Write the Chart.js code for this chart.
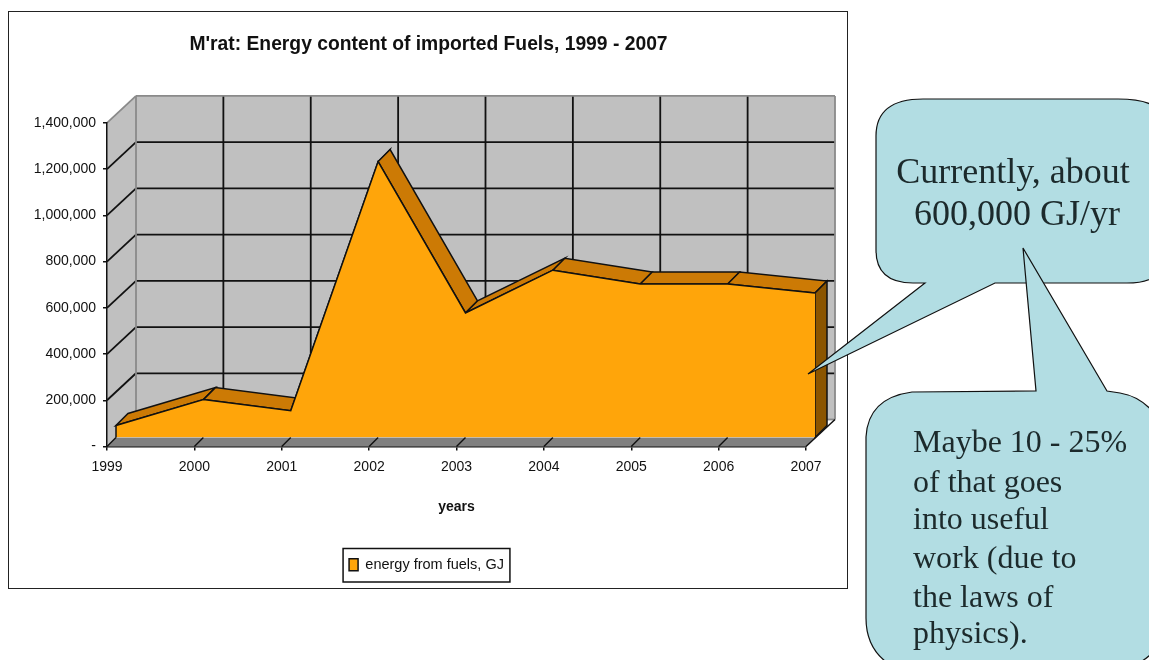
<!DOCTYPE html>
<html>
<head>
<meta charset="utf-8">
<title>M'rat fuels</title>
<script src="https://cdn.jsdelivr.net/npm/chart.js@4"></script>
<style>
  html, body { margin: 0; padding: 0; background: #fff; overflow: hidden; }
  #frame { position: absolute; left: 9px; top: 12px; width: 838px; height: 576px; outline: 1.5px solid #222; filter: blur(0.6px); }
  #bubbles { position: absolute; left: 0; top: 0; filter: blur(0.6px); }
  #bubbles text { font-family: "Liberation Serif", serif; fill: #1c2a2c; }
</style>
</head>
<body>
<div id="frame"><canvas id="chart" width="838" height="576"></canvas></div>
<svg id="bubbles" width="1149" height="660">
  <path d="M925 283 L808 374 L995 283 L1127 283 Q1165 283 1165 255 L1165 125 Q1165 99 1118 99 L923 99 Q876 99 876 136 L876 250 Q876 283 913 283 Z" fill="#b2dde3" stroke="#111" stroke-width="1.2"/>
  <text x="1013" y="183" text-anchor="middle" font-size="36">Currently, about</text>
  <text x="1017" y="225" text-anchor="middle" font-size="36">600,000 GJ/yr</text>
  <path d="M912 392 L1036 391 L1023 248 L1107 391 L1120 393 Q1149 398 1165 430 L1165 625 Q1160 660 1120 670 L900 670 Q866 655 866 618 L866 437 Q868 398 912 392 Z" fill="#b2dde3" stroke="#111" stroke-width="1.2"/>
  <text x="913" y="452" font-size="32">Maybe 10 - 25%</text>
  <text x="913" y="492" font-size="32">of that goes</text>
  <text x="913" y="529" font-size="32">into useful</text>
  <text x="913" y="568" font-size="32">work (due to</text>
  <text x="913" y="607" font-size="32">the laws of</text>
  <text x="913" y="643" font-size="32">physics).</text>
</svg>
<script>
const years = ["1999", "2000", "2001", "2002", "2003", "2004", "2005", "2006", "2007"];
const energyGJ = [52000, 164000, 116000, 1194000, 539000, 724000, 664000, 664000, 625000];
const seriesName = "energy from fuels, GJ";
const chartTitle = "M'rat: Energy content of imported Fuels, 1999 - 2007";
const axisName = "years";

// fake 3D depth, in pixels
const WALL = { dx: 29, dy: -27 };
const FRONT = { dx: 9, dy: -9 };
const BAND = { dx: 12, dy: -12 };
// title and legend are centred on the frame, not on the plot
const TITLE_SHIFT = 21;
const LEGEND_SHIFT = 19;

function poly(ctx, pts, fill, stroke) {
    ctx.beginPath();
    pts.forEach((p, i) => (i ? ctx.lineTo(p[0], p[1]) : ctx.moveTo(p[0], p[1])));
    ctx.closePath();
    if (fill) { ctx.fillStyle = fill; ctx.fill(); }
    if (stroke) { ctx.strokeStyle = stroke; ctx.stroke(); }
}

function seg(ctx, x1, y1, x2, y2) {
    ctx.beginPath();
    ctx.moveTo(x1, y1);
    ctx.lineTo(x2, y2);
    ctx.stroke();
}

const depthPlugin = {
    id: "depth",
    afterLayout(chart) {
        chart.titleBlock.left += TITLE_SHIFT;
        chart.titleBlock.right += TITLE_SHIFT;
        chart.legend.left += LEGEND_SHIFT;
        chart.legend.right += LEGEND_SHIFT;
    },
    beforeDraw(chart) {
        const { ctx, chartArea: a, scales } = chart;
        const wl = a.left + WALL.dx, wr = a.right + WALL.dx;
        const wt = a.top + WALL.dy, wb = a.bottom + WALL.dy;
        ctx.save();
        ctx.lineWidth = 1.8;
        // side wall and back wall
        poly(ctx, [[a.left, a.top], [wl, wt], [wl, wb], [a.left, a.bottom]], "#c0c0c0");
        poly(ctx, [[wl, wt], [wr, wt], [wr, wb], [wl, wb]], "#c0c0c0");
        // gridlines
        ctx.strokeStyle = "#111";
        scales.y.ticks.forEach((t) => {
            const y = scales.y.getPixelForValue(t.value);
            if (t.value > 0 && y > a.top) {
                seg(ctx, a.left, y, wl, y + WALL.dy);
                seg(ctx, wl, y + WALL.dy, wr, y + WALL.dy);
            }
        });
        years.forEach((yr, i) => {
            const x = scales.x.getPixelForValue(i) + WALL.dx;
            if (i > 0 && i < years.length - 1) seg(ctx, x, wt, x, wb);
        });
        // wall edges are grey
        ctx.strokeStyle = "#8a8a8a";
        seg(ctx, a.left, a.top, wl, wt);
        seg(ctx, wl, wt, wr, wt);
        seg(ctx, wl, wt, wl, wb);
        seg(ctx, wr, wt, wr, wb);
        seg(ctx, wr, wb, a.right + FRONT.dx, wb);
        ctx.restore();
    },
    beforeDatasetsDraw(chart) {
        const { ctx, chartArea: a, scales } = chart;
        const base = scales.y.getPixelForValue(0);
        const pts = chart.getDatasetMeta(0).data.map((p) => [p.x + FRONT.dx, p.y + FRONT.dy]);
        ctx.save();
        ctx.lineWidth = 1.5;
        // floor strip in front of the area
        poly(ctx, [[a.left, base], [a.right, base], [a.right + FRONT.dx, base + FRONT.dy], [a.left + FRONT.dx, base + FRONT.dy]], "#808080");
        ctx.strokeStyle = "#111";
        years.forEach((yr, i) => {
            const x = scales.x.getPixelForValue(i);
            if (i < years.length - 1) seg(ctx, x, base, x + FRONT.dx, base + FRONT.dy);
        });
        seg(ctx, a.right, base, a.right + WALL.dx, base + WALL.dy);
        // top band
        for (let i = 0; i < pts.length - 1; i++) {
            const p = pts[i], q = pts[i + 1];
            poly(ctx, [p, q, [q[0] + BAND.dx, q[1] + BAND.dy], [p[0] + BAND.dx, p[1] + BAND.dy]], "#cc7a05", "#111");
        }
        // right end face
        const e = pts[pts.length - 1];
        const fb = base + FRONT.dy;
        poly(ctx, [e, [e[0] + BAND.dx, e[1] + BAND.dy], [e[0] + BAND.dx, fb + BAND.dy], [e[0], fb]], "#8b5500", "#111");
        ctx.restore();
        // the dataset itself sits on the front plane
        ctx.save();
        ctx.translate(FRONT.dx, FRONT.dy);
    },
    afterDatasetsDraw(chart) {
        const { ctx, scales } = chart;
        ctx.restore();
        const pts = chart.getDatasetMeta(0).data;
        const fb = scales.y.getPixelForValue(0) + FRONT.dy;
        ctx.save();
        ctx.lineWidth = 1.5;
        ctx.strokeStyle = "#111";
        seg(ctx, pts[0].x + FRONT.dx, pts[0].y + FRONT.dy, pts[0].x + FRONT.dx, fb);
        ctx.restore();
    },
    afterDraw(chart) {
        const { ctx, legend } = chart;
        const hit = legend.legendHitBoxes[0];
        ctx.save();
        ctx.lineWidth = 1.5;
        ctx.strokeStyle = "#111";
        ctx.strokeRect(hit.left - 6, legend.top, hit.width + 12, legend.height);
        ctx.restore();
    }
};

new Chart(document.getElementById("chart"), {
    type: "line",
    data: {
        labels: years,
        datasets: [{
            label: seriesName,
            data: energyGJ,
            borderColor: "#111",
            borderWidth: 1.5,
            backgroundColor: "#ffa50a",
            fill: "origin",
            tension: 0,
            pointRadius: 0
        }]
    },
    plugins: [depthPlugin],
    options: {
        responsive: false,
        animation: false,
        devicePixelRatio: 1,
        layout: { padding: { left: 0, right: 41, top: 0, bottom: 6 } },
        plugins: {
            tooltip: { enabled: false },
            title: {
                display: true,
                text: chartTitle,
                color: "#111",
                font: { family: "'Liberation Sans'", size: 19.3, weight: "bold", lineHeight: 1.2 },
                padding: { top: 21, bottom: 66.8 }
            },
            legend: {
                position: "bottom",
                labels: {
                    color: "#111",
                    boxWidth: 9,
                    boxHeight: 12,
                    padding: 9,
                    font: { family: "'Liberation Sans'", size: 14.5 }
                }
            }
        },
        scales: {
            x: {
                afterFit(scale) { scale.height = 102; },
                grid: { drawOnChartArea: false, drawTicks: true, tickLength: 4, color: "#111", lineWidth: 1.5 },
                border: { color: "#111", width: 1.5 },
                ticks: { color: "#111", padding: 8, autoSkip: false, maxRotation: 0, font: { family: "'Liberation Sans'", size: 14 } },
                title: {
                    display: true,
                    text: axisName,
                    color: "#111",
                    font: { family: "'Liberation Sans'", size: 14, weight: "bold" },
                    padding: { top: 0, bottom: 33 }
                }
            },
            y: {
                min: 0,
                max: 1400000,
                afterFit(scale) { scale.width = 98; },
                grid: { drawOnChartArea: false, drawTicks: true, tickLength: 4, color: "#111", lineWidth: 1.5 },
                border: { color: "#111", width: 1.5 },
                ticks: {
                    color: "#111",
                    padding: 7,
                    stepSize: 200000,
                    font: { family: "'Liberation Sans'", size: 14 },
                    callback: (v) => (v === 0 ? "-" : v.toLocaleString("en-US"))
                }
            }
        }
    }
});
</script>
</body>
</html>
